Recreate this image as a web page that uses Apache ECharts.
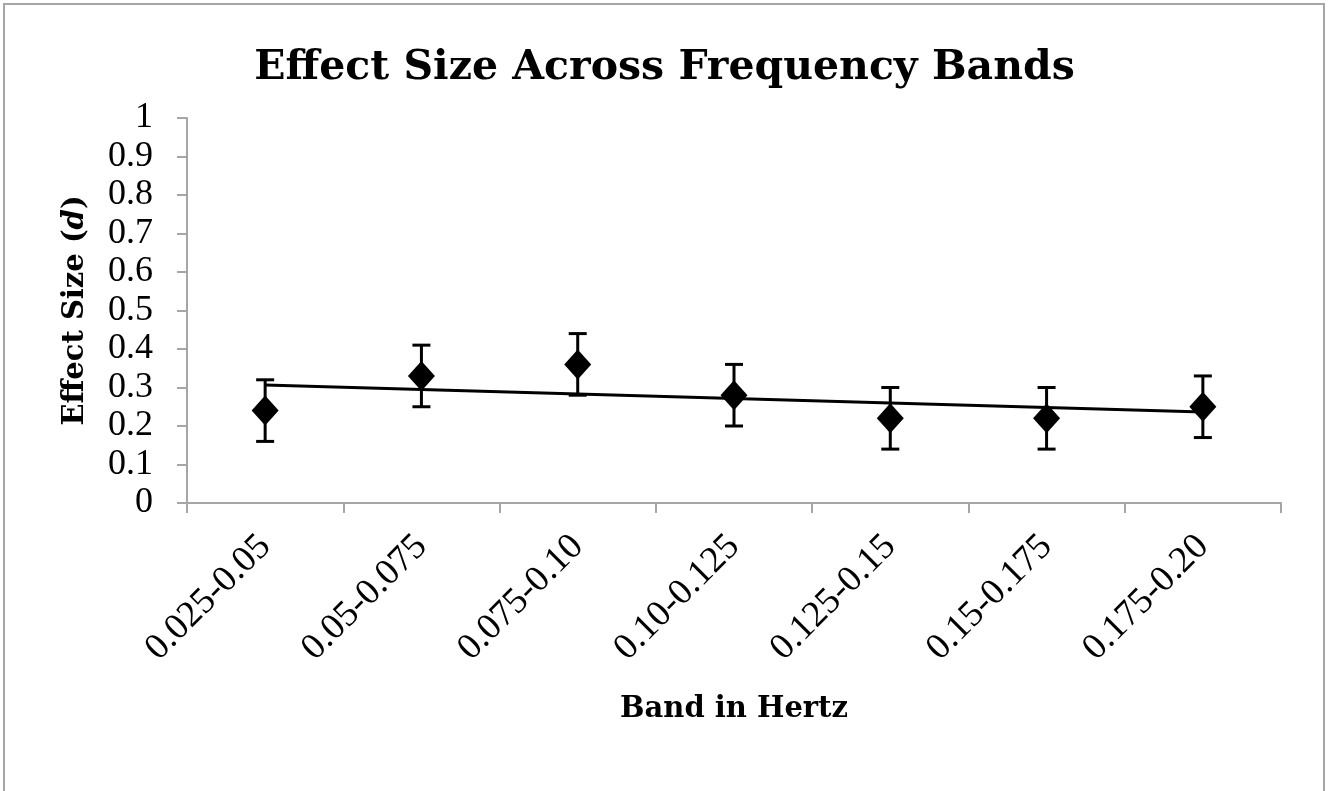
<!DOCTYPE html>
<html><head><meta charset="utf-8">
<script src="https://cdn.jsdelivr.net/npm/echarts@6/dist/echarts.min.js"></script>
<style>html,body{margin:0;padding:0;background:#fff}#c{width:1329px;height:791px}</style>
</head><body><div id="c"></div>
<script>
const categories = ['0.025-0.05','0.05-0.075','0.075-0.10','0.10-0.125','0.125-0.15','0.15-0.175','0.175-0.20'];
const effectSize = [0.24, 0.33, 0.36, 0.28, 0.22, 0.22, 0.25];
const errLow = [0.16, 0.25, 0.28, 0.20, 0.14, 0.14, 0.17];
const errHigh = [0.32, 0.41, 0.44, 0.36, 0.30, 0.30, 0.33];

// linear trendline (least squares) over category index
const n = effectSize.length;
const xs = effectSize.map((_, i) => i + 1);
const mx = xs.reduce((a, b) => a + b, 0) / n;
const my = effectSize.reduce((a, b) => a + b, 0) / n;
let sxy = 0, sxx = 0;
for (let i = 0; i < n; i++) { sxy += (xs[i] - mx) * (effectSize[i] - my); sxx += (xs[i] - mx) ** 2; }
const slope = sxy / sxx, icpt = my - slope * mx;
const trend = xs.map(x => +(icpt + slope * x).toFixed(4));

const FONT = 'DejaVu Serif';
const NUMFONT = 'Liberation Serif';
const chart = echarts.init(document.getElementById('c'));
chart.setOption({
  backgroundColor: '#fff',
  animation: false,
  graphic: [{ type: 'rect', shape: { x: 4, y: 4, width: 1320, height: 820 }, style: { fill: 'none', stroke: '#a6a6a6', lineWidth: 2 }, silent: true }],
  title: { text: 'Effect Size Across Frequency Bands', left: 'center', top: 43,
    textStyle: { fontFamily: FONT, fontWeight: 'bold', fontSize: 41, color: '#000' } },
  grid: { left: 187, right: 48, top: 118, bottom: 288 },
  xAxis: {
    type: 'category', data: categories, boundaryGap: true,
    name: 'Band in Hertz', nameLocation: 'middle', nameGap: 192,
    nameTextStyle: { fontFamily: FONT, fontWeight: 'bold', fontSize: 29, color: '#000' },
    axisLine: { lineStyle: { color: '#a6a6a6', width: 2 } },
    axisTick: { show: true, length: 10, alignWithLabel: false, lineStyle: { color: '#a6a6a6', width: 2 } },
    axisLabel: { rotate: 45, margin: 38, fontFamily: NUMFONT, fontSize: 37, color: '#000', interval: 0 },
    splitLine: { show: false }
  },
  yAxis: {
    type: 'value', min: 0, max: 1, interval: 0.1,
    name: '{b|Effect Size (}{i|d}{b|)}', nameLocation: 'middle', nameGap: 97, nameRotate: 90,
    nameTextStyle: { rich: {
      b: { fontFamily: FONT, fontWeight: 'bold', fontSize: 29, color: '#000' },
      i: { fontFamily: FONT, fontWeight: 'bold', fontStyle: 'italic', fontSize: 29, color: '#000' } } },
    axisLine: { show: true, lineStyle: { color: '#a6a6a6', width: 2 } },
    axisTick: { show: true, length: 10, lineStyle: { color: '#a6a6a6', width: 2 } },
    axisLabel: { margin: 34, fontFamily: NUMFONT, fontSize: 36, color: '#000',
      formatter: v => String(+v.toFixed(1)) },
    splitLine: { show: false }
  },
  series: [
    { type: 'line', data: trend, symbol: 'none', lineStyle: { color: '#000', width: 3 }, z: 2 },
    { type: 'custom', z: 3,
      data: categories.map((c, i) => [i, errLow[i], errHigh[i]]),
      renderItem: function (params, api) {
        const lo = api.coord([api.value(0), api.value(1)]);
        const hi = api.coord([api.value(0), api.value(2)]);
        const w = 9;
        const st = { stroke: '#000', lineWidth: 3 };
        return { type: 'group', children: [
          { type: 'line', shape: { x1: lo[0], y1: lo[1], x2: hi[0], y2: hi[1] }, style: st },
          { type: 'line', shape: { x1: lo[0] - w, y1: lo[1], x2: lo[0] + w, y2: lo[1] }, style: st },
          { type: 'line', shape: { x1: hi[0] - w, y1: hi[1], x2: hi[0] + w, y2: hi[1] }, style: st }
        ] };
      } },
    { type: 'scatter', data: effectSize, symbol: 'diamond', symbolSize: [27, 30],
      itemStyle: { color: '#000', opacity: 1 }, z: 4 }
  ]
});
</script></body></html>
